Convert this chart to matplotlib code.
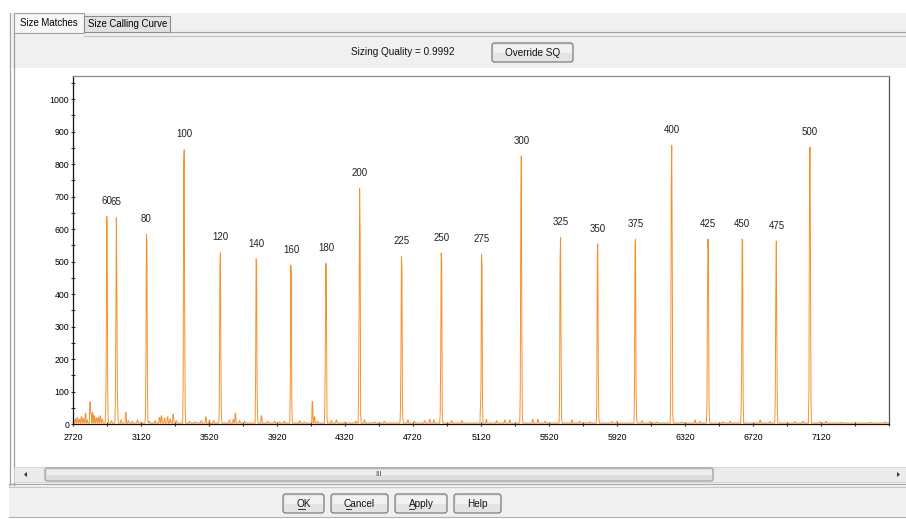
import matplotlib.pyplot as plt
import matplotlib.patches as mpatches
import numpy as np

plt.rcParams['font.family'] = ['Liberation Sans', 'DejaVu Sans']

# size standard peaks: label, scan position, height
peak_labels = ["60", "65", "80", "100", "120", "140", "160", "180", "200", "225", "250",
               "275", "300", "325", "350", "375", "400", "425", "450", "475", "500"]
peak_pos = [2918, 2975, 3152, 3375, 3587, 3796, 4002, 4208, 4406, 4652, 4887,
            5123, 5358, 5588, 5806, 6030, 6242, 6456, 6656, 6858, 7054]
# samples across each peak (3 scans apart)
peak_shapes = [
    [40, 155, 640, 625, 100, 20],
    [60, 290, 635, 445, 100, 30],
    [30, 185, 584, 558, 100, 10],
    [120, 785, 844, 330, 40],
    [70, 475, 527, 215, 20],
    [125, 508, 500, 95, 20],
    [110, 489, 465, 60, 10],
    [85, 300, 494, 360, 20],
    [90, 365, 725, 590, 30],
    [40, 200, 515, 480, 60, 10],
    [30, 210, 526, 500, 40],
    [60, 120, 523, 490, 60],
    [100, 650, 825, 310, 30],
    [60, 500, 574, 250, 20],
    [60, 520, 554, 175, 20],
    [100, 555, 569, 110, 20],
    [110, 735, 858, 530, 30],
    [60, 370, 569, 530, 80, 10],
    [40, 160, 569, 565, 80],
    [80, 405, 563, 310, 50],
    [100, 680, 852, 560, 80],
]

# small baseline blips (scan, height)
blip_pos = [2732, 2744, 2755, 2767, 2779, 2791, 2802, 2818, 2826, 2835, 2844, 2855, 2867,
            2879, 2891, 2944, 3003, 3030, 3044, 3067, 3097, 3120, 3167, 3203, 3226, 3238,
            3256, 3274, 3291, 3309, 3327, 3403, 3438, 3474, 3501, 3521, 3544, 3639, 3662,
            3674, 3698, 3727, 3827, 3862, 3904, 3933, 3963, 4051, 4080, 4126, 4139, 4157,
            4239, 4269, 4316, 4381, 4434, 4493, 4551, 4687, 4728, 4787, 4817, 4840, 4946,
            5005, 5150, 5211, 5258, 5288, 5347, 5423, 5453, 5494, 5653, 5700, 5759, 5888,
            5918, 6065, 6112, 6153, 6300, 6377, 6406, 6542, 6583, 6760, 6819, 6966, 7013,
            7113, 7149, 7231, 7319, 7408, 7496]
blip_h = [15, 20, 14, 22, 16, 33, 12, 68, 30, 35, 25, 18, 20,
          25, 15, 10, 12, 36, 10, 8, 12, 6, 8, 10, 20, 25,
          18, 22, 15, 30, 10, 8, 6, 10, 22, 12, 10, 12, 14,
          33, 10, 8, 25, 8, 8, 6, 8, 10, 6, 69, 22, 8,
          10, 12, 6, 8, 12, 6, 8, 12, 8, 10, 14, 12, 10,
          10, 14, 10, 12, 12, 6, 14, 14, 8, 12, 8, 6, 7,
          8, 9, 7, 6, 6, 12, 7, 6, 8, 12, 7, 7, 8,
          6, 8, 5, 5, 5, 6]
BASE = 3

x_ticks = [2720, 3120, 3520, 3920, 4320, 4720, 5120, 5520, 5920, 6320, 6720, 7120]
y_ticks = [0, 100, 200, 300, 400, 500, 600, 700, 800, 900, 1000]

W, H = 906, 519

# ---- trace ----
scan = np.arange(2720, 7521, 3)
signal = np.full(len(scan), float(BASE))
for p, h in zip(blip_pos, blip_h):
    i = np.argmin(np.abs(scan - p))
    signal[i] = max(signal[i], h)
    signal[i + 1] = max(signal[i + 1], h)
for p, shape in zip(peak_pos, peak_shapes):
    c = np.argmin(np.abs(scan - p))
    top = int(np.argmax(shape))
    for k, v in enumerate(shape):
        signal[c - top + k] = max(signal[c - top + k], v)

fig = plt.figure(figsize=(W / 100, H / 100), dpi=100)

# ---- window chrome (pixel coords) ----
bg = fig.add_axes([0, 0, 1, 1])
bg.set_xlim(0, W)
bg.set_ylim(H, 0)
bg.axis("off")


def rect(x0, y0, x1, y1, fc, ec="none", lw=0.8, z=1):
    bg.add_patch(mpatches.Rectangle((x0, y0), x1 - x0, y1 - y0, facecolor=fc,
                                    edgecolor=ec, linewidth=lw, zorder=z))


def button(x0, y0, x1, y1, label):
    bg.add_patch(mpatches.FancyBboxPatch((x0, y0), x1 - x0, y1 - y0,
                                         boxstyle="round,pad=0,rounding_size=2.5",
                                         facecolor="#e4e4e4", edgecolor="#707070",
                                         linewidth=0.8, zorder=3))
    rect(x0 + 1.5, y0 + 1.5, x1 - 1.5, (y0 + y1) / 2, "#f2f2f2", z=3.5)
    bg.text((x0 + x1) / 2, (y0 + y1) / 2 + 0.5, label, ha="center", va="center",
            fontsize=7.2, color="#111111", zorder=4)


# grey panels
rect(12, 13, W, 68, "#f0f0f0")
rect(9, 483, W, 517, "#f0f0f0")
bg.plot([9, W], [517, 517], color="#b0b0b0", lw=0.8, zorder=2)

# tabs
rect(14, 13, 84, 33, "#f7f7f7", ec="#a0a0a0", z=2)
rect(84, 15.5, 170, 32, "#e2e2e2", ec="#8c8c8c", z=2)
bg.text(49, 23.5, "Size Matches", ha="center", va="center", fontsize=6.9, zorder=4)
bg.text(127.5, 24, "Size Calling Curve", ha="center", va="center", fontsize=6.9, zorder=4)
bg.plot([170, W], [32.3, 32.3], color="#a0a0a0", lw=0.8, zorder=2)
bg.plot([84, W], [35.7, 35.7], color="#c4c4c4", lw=0.8, zorder=2)

# left frame
bg.plot([9.5, 9.5], [13, 485], color="#a0a0a0", lw=0.9, zorder=2)
bg.plot([13.5, 13.5], [33, 485], color="#a0a0a0", lw=0.9, zorder=2)

bg.text(403, 52, "Sizing Quality = 0.9992", ha="center", va="center", fontsize=7.2,
        color="#111111", zorder=4)
button(492, 43, 573, 62, "Override SQ")

# scrollbar
rect(14, 467, W, 482, "#ebebeb", ec="#d0d0d0", lw=0.6, z=2)
bg.add_patch(mpatches.FancyBboxPatch((45, 468), 668, 13,
                                     boxstyle="round,pad=0,rounding_size=2",
                                     facecolor="#dcdcdc", edgecolor="#9a9a9a",
                                     linewidth=0.8, zorder=3))
rect(46.5, 469.5, 711.5, 474.5, "#eeeeee", z=3.5)
bg.text(378, 474.5, "III", ha="center", va="center", fontsize=5.5, color="#444444", zorder=4)
bg.add_patch(mpatches.Polygon([[27, 472], [27, 477], [24, 474.5]], closed=True,
                              facecolor="#333333", edgecolor="none", zorder=4))
bg.add_patch(mpatches.Polygon([[897, 472], [897, 477], [900, 474.5]], closed=True,
                              facecolor="#333333", edgecolor="none", zorder=4))
bg.plot([9, W], [483.5, 483.5], color="#a8a8a8", lw=0.8, zorder=2)
bg.plot([9, W], [487, 487], color="#c8c8c8", lw=0.8, zorder=2)

# dialog buttons
button(283, 494, 324, 513, "OK")
button(331, 494, 388, 513, "Cancel")
button(395, 494, 447, 513, "Apply")
button(454, 494, 501, 513, "Help")
for ux0, ux1 in [(298, 305), (345.5, 350.5), (408.5, 414)]:
    bg.plot([ux0, ux1], [508.5, 508.5], color="#111111", lw=0.6, zorder=5)

# ---- electropherogram ----
ax = fig.add_axes([73 / W, (H - 424) / H, (889 - 73) / W, (424 - 76) / H])
ax.plot(scan, signal, color="#f8912c", linewidth=0.7)
ax.set_xlim(2720, 7520)
ax.set_ylim(0, 1071)
ax.set_xticks(x_ticks)
ax.set_xticks(np.arange(2720, 7521, 200), minor=True)
ax.set_yticks(y_ticks)
ax.set_yticks(np.arange(0, 1071, 50), minor=True)
ax.tick_params(which="both", direction="inout", length=3.5, width=0.8, color="#333333",
               labelsize=6.3)
ax.tick_params(axis="x", pad=5)
ax.tick_params(axis="y", pad=1)
for s in ["left", "bottom"]:
    ax.spines[s].set_color("#111111")
ax.spines["top"].set_color("#8a8a8a")
ax.spines["right"].set_color("#555555")
for s in ax.spines.values():
    s.set_linewidth(0.9)

for lab, p, shape in zip(peak_labels, peak_pos, peak_shapes):
    ax.annotate(lab, (p, max(shape)), xytext=(0, 11), textcoords="offset points",
                ha="center", va="center", fontsize=7, color="#222222")

fig.savefig("out.png", dpi=100)
